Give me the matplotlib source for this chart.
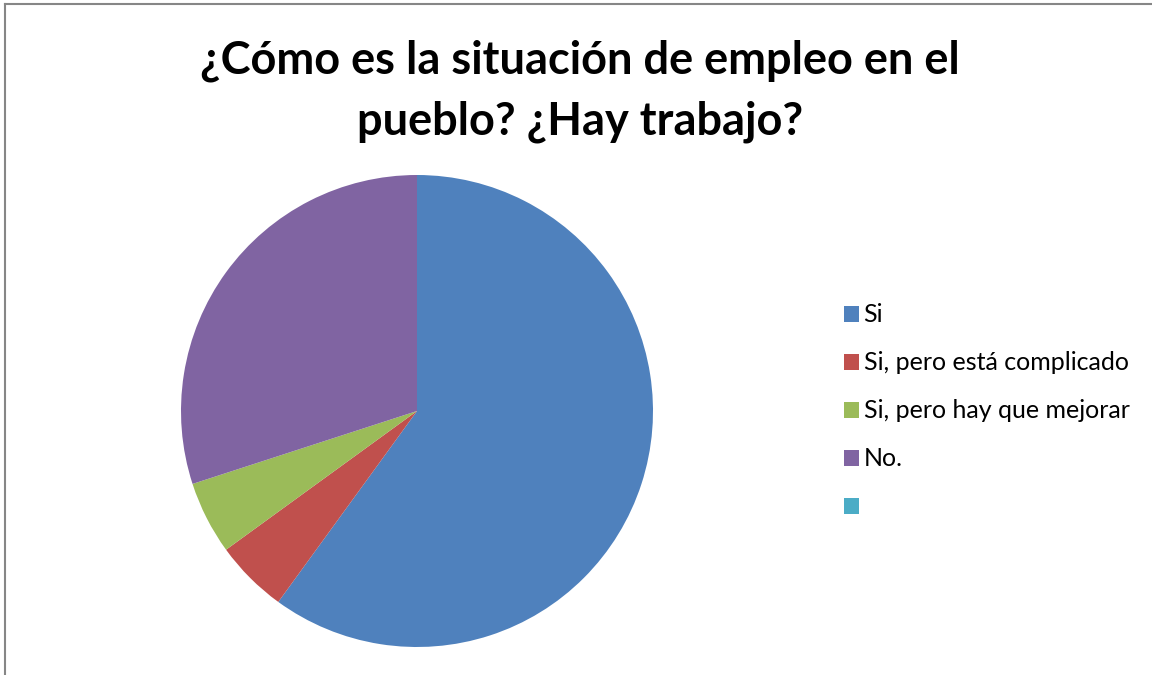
import matplotlib.pyplot as plt
from matplotlib.patches import Patch
from matplotlib.lines import Line2D

# Survey answers
categories = ["Si", "Si, pero está complicado", "Si, pero hay que mejorar", "No.", ""]
counts = [12, 1, 1, 6, 0]
colors = ["#4F81BD", "#C0504D", "#9BBB59", "#8064A2", "#4BACC6"]

title = "¿Cómo es la situación de empleo en el\npueblo? ¿Hay trabajo?"

W, H = 1152, 675
fig = plt.figure(figsize=(W / 100, H / 100), dpi=100)
fig.patch.set_facecolor("white")

# pie: centre (417, 411) px, radius 236 px
cx, cy, r = 417, 411, 236
ax = fig.add_axes([(cx - r) / W, (H - cy - r) / H, 2 * r / W, 2 * r / H])
ax.pie(counts, colors=colors, startangle=90, counterclock=False,
       wedgeprops=dict(linewidth=0))
ax.set_xlim(-1, 1)
ax.set_ylim(-1, 1)
ax.set_aspect("equal")
ax.axis("off")

fig.text(580 / W, 1 - 91 / H, title, ha="center", va="center",
         fontsize=32.5, fontweight="bold", family="Lato", linespacing=1.55)

# legend
handles = [Patch(facecolor=c, edgecolor="none") for c in colors]
leg = fig.legend(handles, categories, loc="upper left",
                 bbox_to_anchor=(831 / W, 1 - 291 / H),
                 frameon=False, prop=dict(family="Lato", size=18),
                 handlelength=0.6, handleheight=0.6, handletextpad=0.2,
                 labelspacing=1.0, borderpad=0)

# chart frame
fig.add_artist(Line2D([5 / W, 5 / W], [0, 1 - 4 / H], transform=fig.transFigure,
                      color="#868686", linewidth=1.5))
fig.add_artist(Line2D([5 / W, 1], [1 - 4 / H, 1 - 4 / H], transform=fig.transFigure,
                      color="#868686", linewidth=1.5))

fig.savefig("out.png", dpi=100)
